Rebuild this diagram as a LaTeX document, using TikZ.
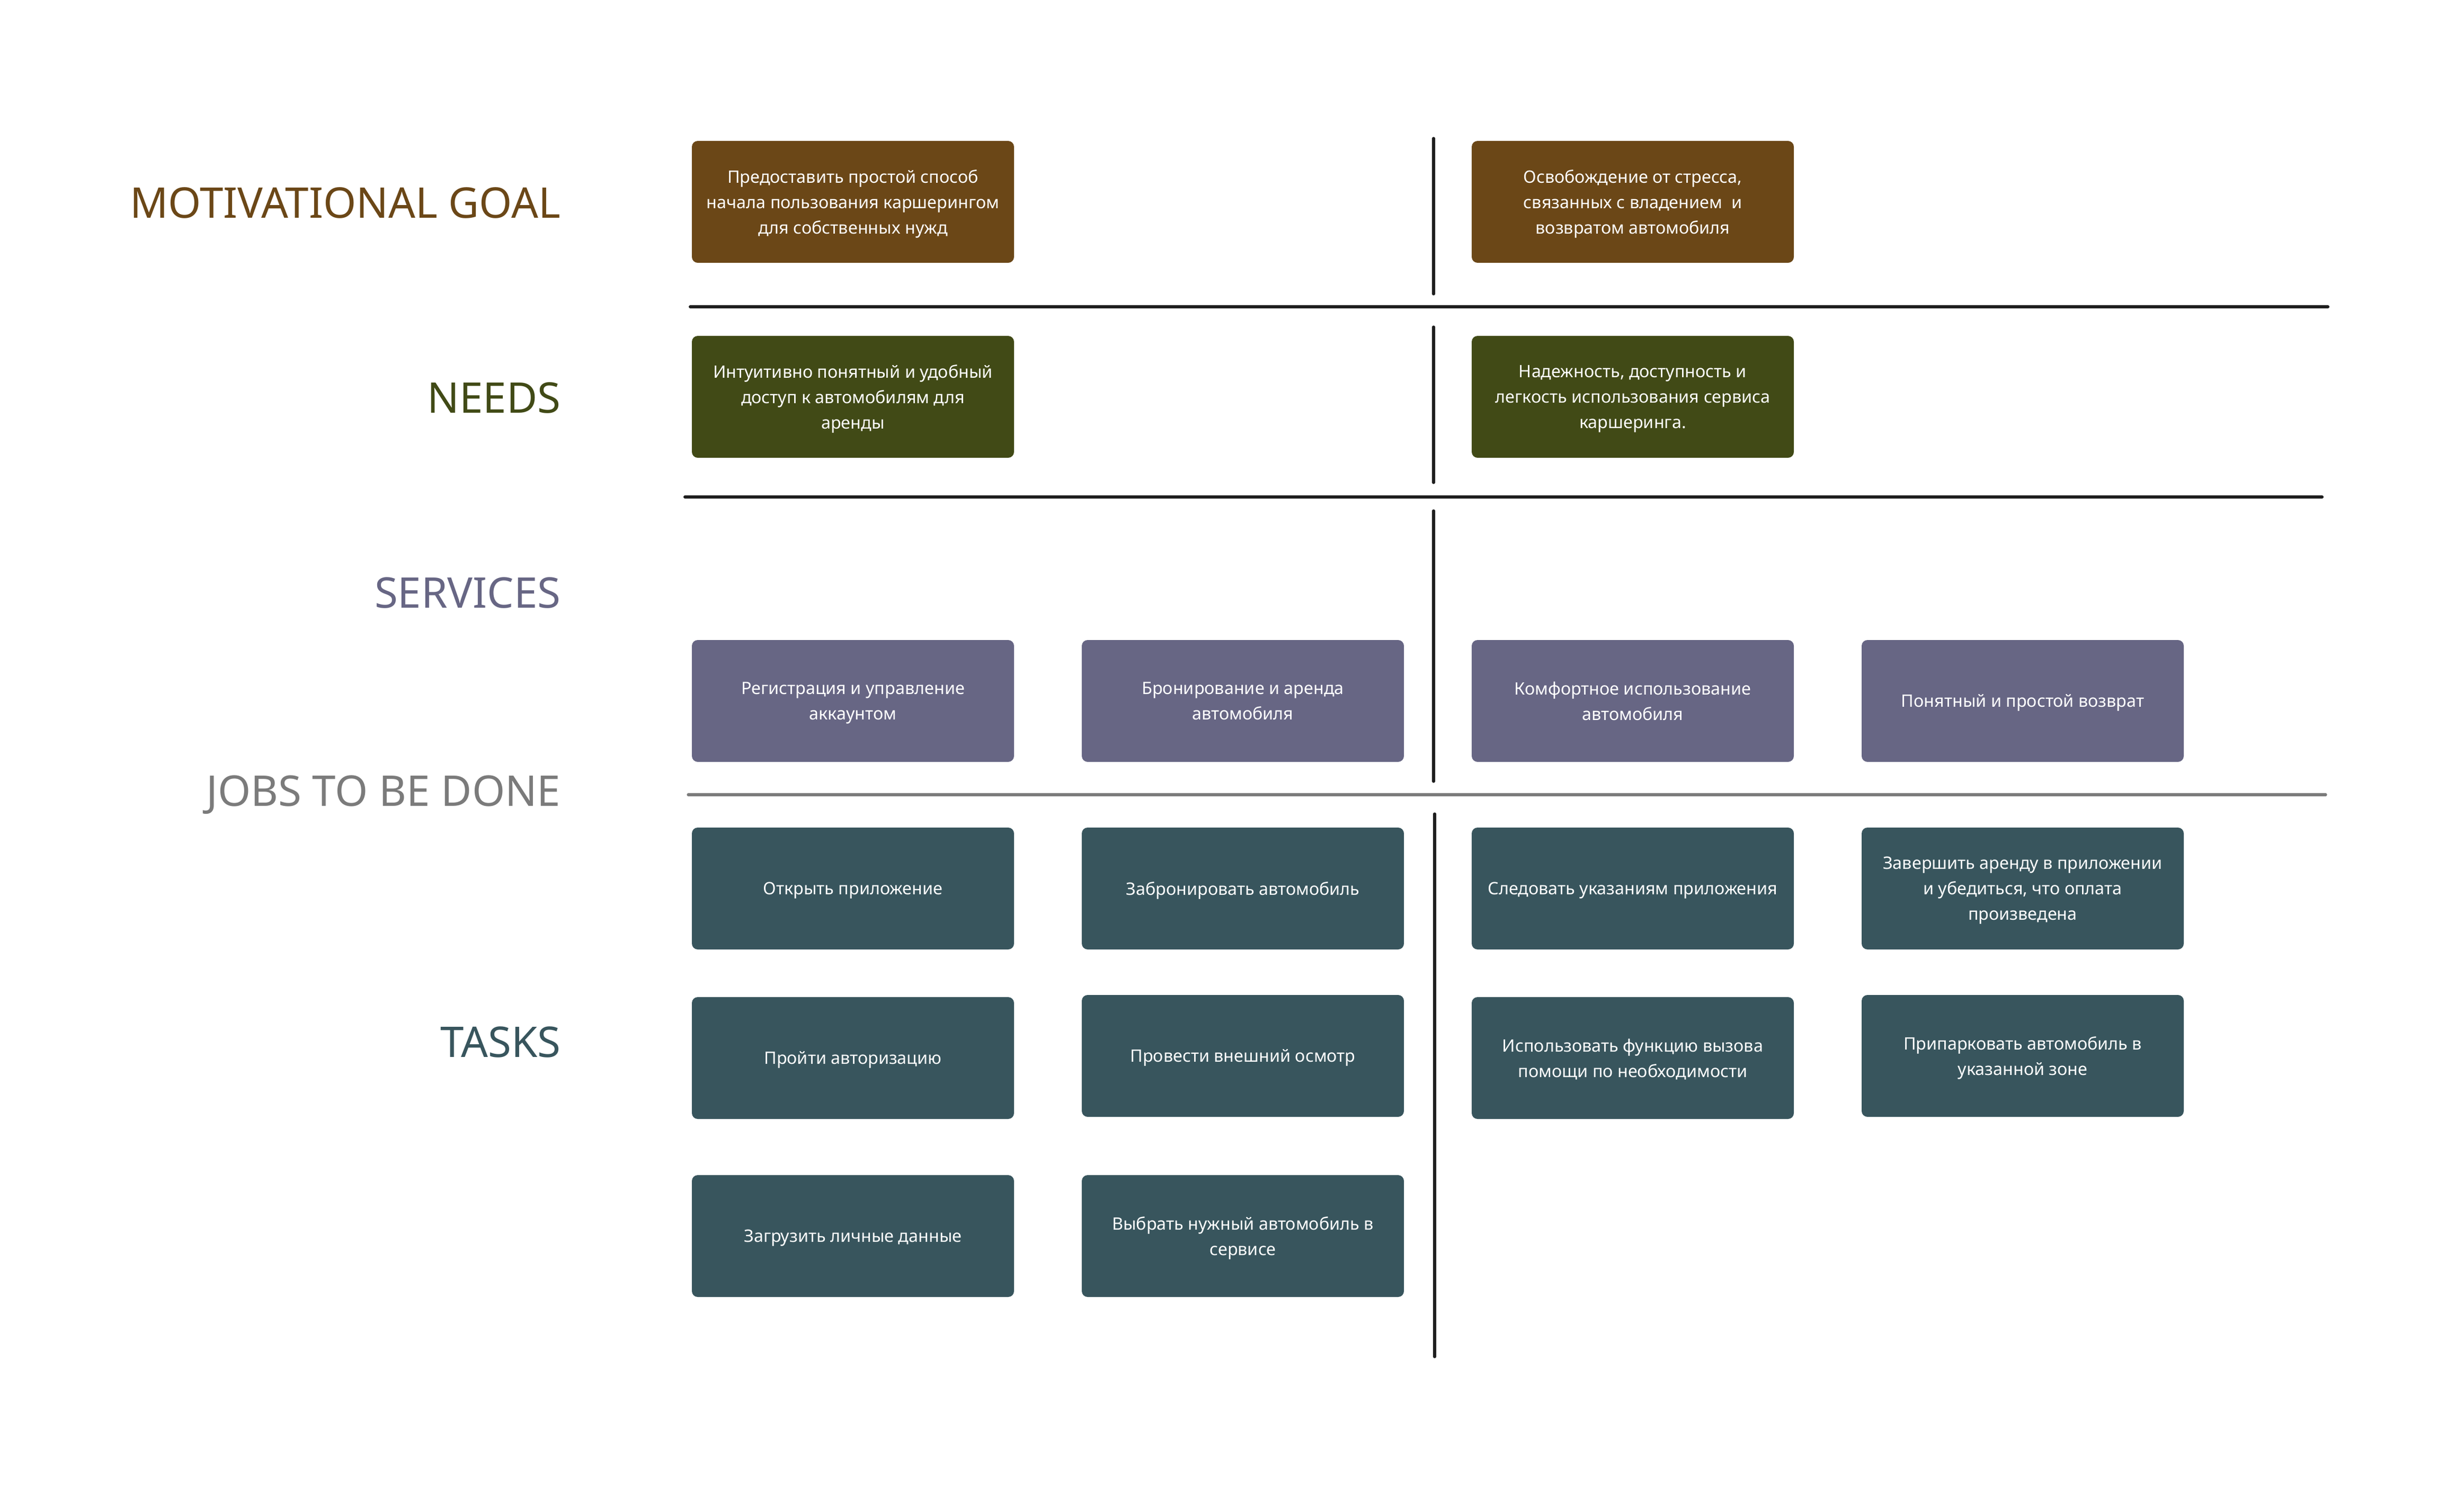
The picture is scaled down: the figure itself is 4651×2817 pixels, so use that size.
\documentclass[tikz,border=0pt]{standalone}
\usepackage{fontspec}
\setmainfont{Noto Sans}
\usetikzlibrary{positioning}

\definecolor{goalc}{HTML}{6B4717}
\definecolor{needc}{HTML}{414A16}
\definecolor{servc}{HTML}{676684}
\definecolor{taskc}{HTML}{38555D}
\definecolor{jobc}{HTML}{7B7B7B}
\definecolor{linec}{HTML}{1E1E1E}

\begin{document}
\begin{tikzpicture}[x=0.1mm, y=-0.1mm,
  card/.style={rounded corners=1.1mm, minimum width=60.8mm, minimum height=23mm,
    inner sep=0pt, align=center, text=white, text depth=0pt,
    font=\fontsize{9.2pt}{13.6pt}\selectfont},
  head/.style={anchor=base east, inner sep=0pt, font=\fontsize{22.7pt}{26pt}\selectfont},
  sep/.style={line width=1.7pt, color=linec, line cap=round},
  vsep/.style={line width=1.45pt, color=linec, line cap=round}]
\useasboundingbox (0,0) rectangle (4651,2817);

% row labels
\node[head, text=goalc] (hgoal) at (1059,411) {MOTIVATIONAL GOAL};
\node[head, text=needc] (hneed) at (1059,779) {NEEDS};
\node[head, text=servc] (hserv) at (1059,1147) {SERVICES};
\node[head, text=jobc] (hjob) at (1059,1521) {JOBS TO BE DONE};
\node[head, text=taskc] (htask) at (1059,1995) {TASKS};

% separators
\draw[sep] (1303,579) -- (4394,579);
\draw[sep] (1293,938) -- (4383,938);
\draw[sep, color=jobc, line width=1.45pt] (1299,1500) -- (4390,1500);

\draw[vsep] (2706,261) -- (2706,555);
\draw[vsep] (2706,617) -- (2706,911);
\draw[vsep] (2706,964) -- (2706,1475);
\draw[vsep] (2708,1536) -- (2708,2561);

% motivational goal
\node[card, fill=goalc] (goal1) at (1610,381) {Предоставить простой способ\\начала пользования каршерингом\\для собственных нужд};
\node[card, fill=goalc] (goal2) at (3082,381) {Освобождение от стресса,\\связанных с владением\ \ и\\возвратом автомобиля};

% needs
\node[card, fill=needc] (need1) at (1610,749) {Интуитивно понятный и удобный\\доступ к автомобилям для\\аренды};
\node[card, fill=needc] (need2) at (3082,749) {Надежность, доступность и\\легкость использования сервиса\\каршеринга.};

% services
\node[card, fill=servc] (serv1) at (1610,1323) {Регистрация и управление\\аккаунтом};
\node[card, fill=servc] (serv2) at (2346,1323) {Бронирование и аренда\\автомобиля};
\node[card, fill=servc] (serv3) at (3082,1323) {Комфортное использование\\автомобиля};
\node[card, fill=servc] (serv4) at (3818,1323) {Понятный и простой возврат};

% tasks
\node[card, fill=taskc] (task11) at (1610,1677) {Открыть приложение};
\node[card, fill=taskc] (task12) at (2346,1677) {Забронировать автомобиль};
\node[card, fill=taskc] (task13) at (3082,1677) {Следовать указаниям приложения};
\node[card, fill=taskc] (task14) at (3818,1677) {Завершить аренду в приложении\\и убедиться, что оплата\\произведена};

\node[card, fill=taskc] (task21) at (1610,1997) {Пройти авторизацию};
\node[card, fill=taskc] (task22) at (2346,1993) {Провести внешний осмотр};
\node[card, fill=taskc] (task23) at (3082,1997) {Использовать функцию вызова\\помощи по необходимости};
\node[card, fill=taskc] (task24) at (3818,1993) {Припарковать автомобиль в\\указанной зоне};

\node[card, fill=taskc] (task31) at (1610,2333) {Загрузить личные данные};
\node[card, fill=taskc] (task32) at (2346,2333) {Выбрать нужный автомобиль в\\сервисе};

\end{tikzpicture}
\end{document}
